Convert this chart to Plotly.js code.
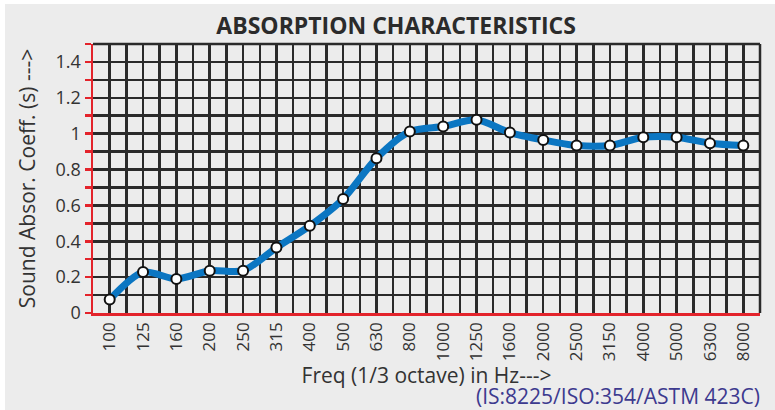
<!DOCTYPE html>
<html><head><meta charset="utf-8">
<script src="https://cdn.plot.ly/plotly-3.0.1.min.js"></script>
<style>
html,body{margin:0;padding:0;background:#ffffff;}
#chart{position:absolute;left:5px;top:4px;width:770px;height:406px;}
</style>
</head><body>
<div id="chart"></div>
<script>
const freqLabels = ['100','125','160','200','250','315','400','500','630','800','1000','1250','1600','2000','2500','3150','4000','5000','6300','8000'];
const absorption = [0.075,0.228,0.19,0.236,0.236,0.365,0.486,0.636,0.863,1.012,1.04,1.077,1.006,0.965,0.934,0.934,0.98,0.98,0.947,0.934];
const yTickVals = [0,0.2,0.4,0.6,0.8,1,1.2,1.4];
const yTickText = ['0','0.2','0.4','0.6','0.8','1','1.2','1.4'];
const chartTitle = 'ABSORPTION CHARACTERISTICS';
const xTitle = 'Freq (1/3 octave) in Hz--->';
const yTitle = 'Sound Absor. Coeff. (s) --->';
const standardNote = '(IS:8225/ISO:354/ASTM 423C)';

const xIdx = freqLabels.map((_, i) => i);
const FONT = 'Open Sans, Roboto, sans-serif';
const GRID = '#2a2a2a';
const RED = '#e3232b';
const TXT = '#333333';

const trace = {
  x: xIdx,
  y: absorption,
  type: 'scatter',
  mode: 'lines+markers',
  line: {color: '#0b76c2', width: 7, shape: 'spline', smoothing: 0.8},
  marker: {size: 10, color: '#ffffff', line: {color: '#111111', width: 2}},
  hoverinfo: 'skip'
};

const layout = {
  width: 770, height: 406,
  paper_bgcolor: '#ececec',
  plot_bgcolor: '#ececec',
  margin: {l: 88, r: 15, t: 40, b: 97},
  showlegend: false,
  font: {family: FONT, color: TXT},
  title: {
    text: chartTitle,
    font: {family: FONT, size: 23, color: '#2b2b2b', weight: 'bold'},
    xref: 'container', x: 0.508, xanchor: 'center',
    yref: 'container', y: 0.946, yanchor: 'middle'
  },
  xaxis: {
    range: [-0.5, 19.5],
    tickmode: 'array', tickvals: xIdx, ticktext: freqLabels,
    tickangle: -90,
    tickfont: {family: FONT, size: 17, color: TXT},
    ticks: '',
    showgrid: true, gridcolor: GRID, gridwidth: 2.5,
    minor: {tickmode: 'linear', tick0: 0, dtick: 0.5, showgrid: true, gridcolor: GRID, gridwidth: 2.5, ticks: ''},
    showline: true, linecolor: RED, linewidth: 2.5,
    zeroline: false,
    title: {text: xTitle, font: {family: FONT, size: 21, color: TXT}, standoff: 4},
    fixedrange: true
  },
  yaxis: {
    range: [0, 1.5],
    tickmode: 'array', tickvals: yTickVals, ticktext: yTickText,
    tickfont: {family: FONT, size: 18, color: TXT},
    ticks: 'outside', ticklen: 6, tickwidth: 2.5, tickcolor: RED,
    showgrid: true, gridcolor: GRID, gridwidth: 2.5,
    minor: {tickmode: 'linear', tick0: 0, dtick: 0.1, ticks: 'outside', ticklen: 6, tickwidth: 2.5, tickcolor: RED, showgrid: true, gridcolor: GRID, gridwidth: 2.5},
    showline: true, linecolor: RED, linewidth: 2.5,
    zeroline: false,
    title: {text: yTitle, font: {family: FONT, size: 21, color: TXT}, standoff: 14},
    fixedrange: true
  },
  shapes: [
    {type: 'line', xref: 'paper', yref: 'paper', x0: 0, x1: 1, y0: 1, y1: 1, line: {color: GRID, width: 2.5}, layer: 'below'},
    {type: 'line', xref: 'paper', yref: 'paper', x0: 1, x1: 1, y0: 0, y1: 1, line: {color: GRID, width: 2.5}, layer: 'below'}
  ],
  annotations: [{
    text: standardNote,
    xref: 'paper', x: 1.003, xanchor: 'right',
    yref: 'paper', y: -0.3086, yanchor: 'middle',
    showarrow: false,
    font: {family: FONT, size: 21, color: '#3d3a8f'}
  }]
};

Plotly.newPlot('chart', [trace], layout, {staticPlot: true, displayModeBar: false});
</script>
</body></html>
